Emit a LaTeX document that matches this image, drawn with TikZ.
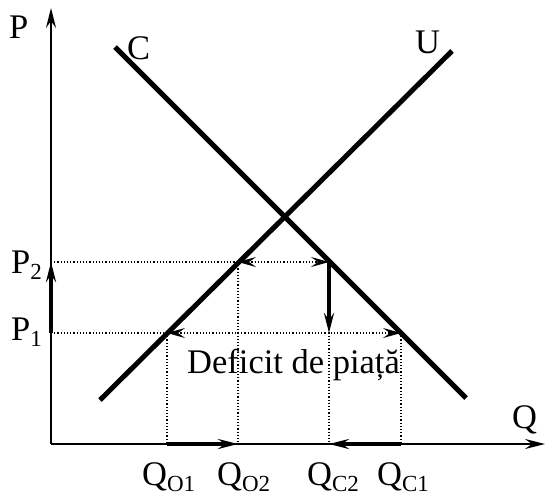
\documentclass[tikz,border=0pt]{standalone}
\usepackage{fontspec}
\setmainfont{Liberation Serif}
\usetikzlibrary{arrows.meta}
\newcommand{\lbl}[2]{#1\raisebox{-6pt}{\fontsize{23}{23}\selectfont #2}}

\begin{document}
\begin{tikzpicture}[x=1pt,y=-1pt,font=\fontsize{34.5}{40}\selectfont,
  tip/.style={-{Stealth[length=20pt,width=10pt,inset=7pt]}},
  both/.style={{Stealth[length=18pt,width=10pt,inset=7pt]}-{Stealth[length=18pt,width=10pt,inset=7pt]}},
  curve/.style={line width=5pt},
  guide/.style={dotted,line width=1.2pt},
  movearrow/.style={line width=3.5pt},
  txt/.style={anchor=base west,inner sep=0pt}]
\useasboundingbox (0,0) rectangle (545,498);
% axes
\coordinate (O) at (51,444);
\coordinate (ytop) at (51,8);
\coordinate (xend) at (545,444);
\draw[line width=1.5pt,tip] (O)--(ytop);
\draw[line width=1.5pt,tip] (O)--(xend);
\node[txt] (P) at (9,38) {P};
\node[txt] (Q) at (512,428) {Q};
% supply and demand
\coordinate (Ctop) at (115,47);
\coordinate (Cbot) at (466,398);
\coordinate (Utop) at (452,51);
\coordinate (Ubot) at (100,400);
\draw[curve] (Ctop)--(Cbot);
\draw[curve] (Utop)--(Ubot);
\node[txt] (C) at (127,59) {C};
\node[txt] (U) at (415,53) {U};
% price levels
\coordinate (P2) at (51,262);
\coordinate (P1) at (51,333);
\coordinate (O2) at (238,262);
\coordinate (C2) at (329,262);
\coordinate (O1) at (167,333);
\coordinate (C1) at (401,333);
\coordinate (qO1) at (O1 |- O);
\coordinate (qO2) at (O2 |- O);
\coordinate (qC2) at (C2 |- O);
\coordinate (qC1) at (C1 |- O);
\draw[guide] (P2)--(O2);
\draw[guide] (P1)--(O1);
\draw[guide,both] (O2)--(C2);
\draw[guide,both] (O1)--(C1);
\draw[guide] (O1)--(qO1);
\draw[guide] (O2)--(qO2);
\draw[guide] (C2)--(qC2);
\draw[guide] (C1)--(qC1);
% shifts
\draw[movearrow,tip] (P1)--(P2);
\draw[movearrow,tip] (C2)--(C2 |- P1);
\draw[movearrow,tip] (qO1)--(qO2);
\draw[movearrow,tip] (qC1)--(qC2);
% labels
\node[txt] (lP2) at (11,273) {\lbl{P}{2}};
\node[txt] (lP1) at (11,340) {\lbl{P}{1}};
\node[txt] (lO1) at (142,485) {\lbl{Q}{O1}};
\node[txt] (lO2) at (217,485) {\lbl{Q}{O2}};
\node[txt] (lC2) at (307,485) {\lbl{Q}{C2}};
\node[txt] (lC1) at (377,485) {\lbl{Q}{C1}};
\node[txt] (def) at (187,373) {Deficit de piață};
\end{tikzpicture}
\end{document}
